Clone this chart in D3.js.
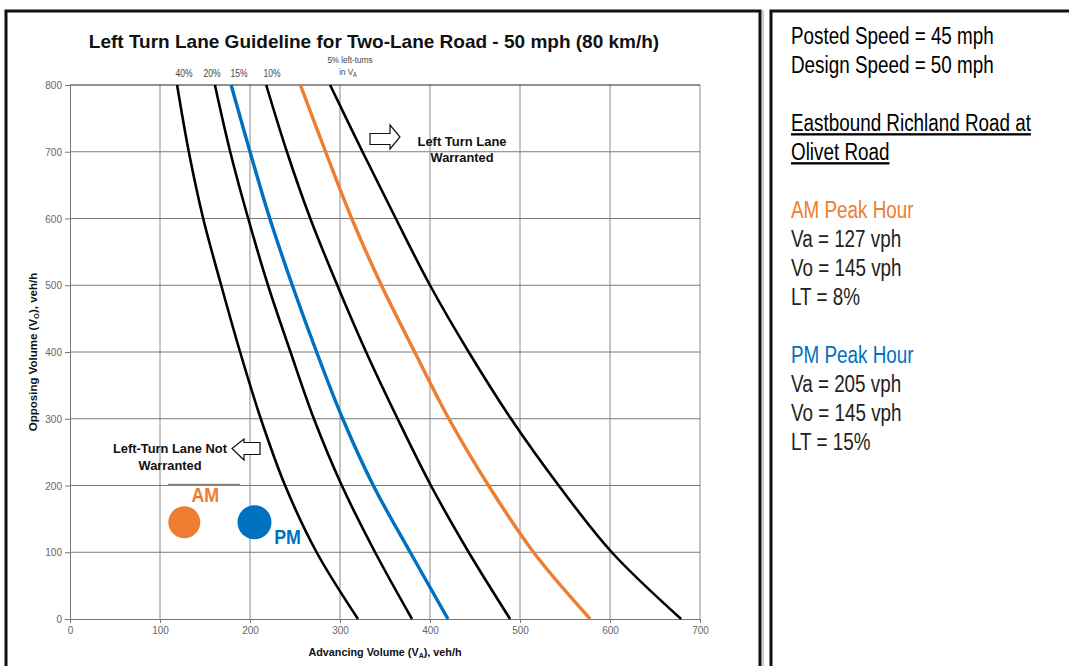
<!DOCTYPE html>
<html>
<head>
<meta charset="utf-8">
<script src="https://cdn.jsdelivr.net/npm/d3@7"></script>
<style>
  html, body { margin: 0; padding: 0; background: #fff; }
  svg { display: block; }
</style>
</head>
<body>
<svg id="chart" width="1069" height="666"></svg>
<script>
// ---------- data ----------
const opposingVolumes = [0, 100, 200, 300, 400, 500, 600, 700, 800];
const advancing40 = [320, 274, 239, 212, 189, 168, 148, 132, 119];
const advancing20 = [380, 339, 302, 271, 245, 220, 198, 178, 161];
const advancing15 = [420, 378, 337, 303, 274, 247, 222, 200, 179];
const advancing10 = [489, 443, 401, 364, 329, 297, 267, 241, 218];
const advancing8  = [578, 515, 465, 421, 383, 346, 313, 284, 256];
const advancing5  = [679, 602, 543, 490, 443, 400, 362, 325, 289];

const seriesNames  = ["40%", "20%", "15%", "10%", "8%", "5%"];
const seriesColors = ["#000000", "#000000", "#0070C0", "#000000", "#ED7D31", "#000000"];
const seriesValues = [advancing40, advancing20, advancing15, advancing10, advancing8, advancing5];

const pointNames  = ["AM", "PM"];
const pointVa     = [127, 205];
const pointVo     = [145, 145];
const pointColors = ["#ED7D31", "#0070C0"];

const xTicks = [0, 100, 200, 300, 400, 500, 600, 700];
const yTicks = [0, 100, 200, 300, 400, 500, 600, 700, 800];
const topLabels = ["40%", "20%", "15%", "10%"];

const panelLines = [
  {t: "Posted Speed = 45 mph", c: "#000", u: false},
  {t: "Design Speed = 50 mph", c: "#000", u: false},
  {t: "", c: "#000", u: false},
  {t: "Eastbound Richland Road at", c: "#000", u: true},
  {t: "Olivet Road", c: "#000", u: true},
  {t: "", c: "#000", u: false},
  {t: "AM Peak Hour", c: "#ED7D31", u: false},
  {t: "Va = 127 vph", c: "#222", u: false},
  {t: "Vo = 145 vph", c: "#222", u: false},
  {t: "LT = 8%", c: "#222", u: false},
  {t: "", c: "#000", u: false},
  {t: "PM Peak Hour", c: "#0070C0", u: false},
  {t: "Va = 205 vph", c: "#222", u: false},
  {t: "Vo = 145 vph", c: "#222", u: false},
  {t: "LT = 15%", c: "#222", u: false}
];

// ---------- layout ----------
const svg = d3.select("#chart");
const plot = {left: 70, right: 700, top: 85, bottom: 619};
const x = d3.scaleLinear().domain([0, 700]).range([plot.left, plot.right]);
const y = d3.scaleLinear().domain([0, 800]).range([plot.bottom, plot.top]);
const axisFont = "'Liberation Sans Narrow', 'Liberation Sans', Arial, sans-serif";
const boldFont = "'Liberation Sans', Arial, sans-serif";

// helper: horizontally condensed text (narrow font look)
function narrowText(parent, xx, yy, sx, anchor) {
  return parent.append("text")
    .attr("transform", `translate(${xx},${yy}) scale(${sx},1)`)
    .attr("text-anchor", anchor || "start");
}

// panel borders
svg.append("rect").attr("x", 6).attr("y", 11).attr("width", 754).attr("height", 670)
  .attr("fill", "none").attr("stroke", "#111").attr("stroke-width", 3);
svg.append("line").attr("x1", 763).attr("x2", 763).attr("y1", 10).attr("y2", 666)
  .attr("stroke", "#999").attr("stroke-width", 1);
svg.append("rect").attr("x", 771).attr("y", 11).attr("width", 320).attr("height", 670)
  .attr("fill", "none").attr("stroke", "#111").attr("stroke-width", 3);

// title
svg.append("text").attr("x", 374).attr("y", 48).attr("text-anchor", "middle")
  .attr("font-family", boldFont).attr("font-weight", "bold").attr("font-size", 19)
  .attr("fill", "#111").text("Left Turn Lane Guideline for Two-Lane Road - 50 mph (80 km/h)");

// grid
const g = svg.append("g");
g.selectAll(".vg").data(xTicks.slice(1)).join("line")
  .attr("x1", d => x(d)).attr("x2", d => x(d)).attr("y1", plot.top).attr("y2", plot.bottom)
  .attr("stroke", "#8a8a8a").attr("stroke-width", 1);
g.selectAll(".hg").data(yTicks.slice(1)).join("line")
  .attr("x1", plot.left).attr("x2", plot.right).attr("y1", d => y(d)).attr("y2", d => y(d))
  .attr("stroke", d => d === 800 ? "#222" : "#7a7a7a").attr("stroke-width", 1);

// axes
const yAxis = svg.append("g").attr("transform", `translate(${plot.left},0)`)
  .call(d3.axisLeft(y).tickValues(yTicks).tickSize(5).tickPadding(3).tickFormat(d3.format("d")));
const xAxis = svg.append("g").attr("transform", `translate(0,${plot.bottom})`)
  .call(d3.axisBottom(x).tickValues(xTicks).tickSize(4).tickPadding(4).tickFormat(d3.format("d")));
[xAxis, yAxis].forEach(a => {
  a.select(".domain").attr("stroke", "#777");
  a.selectAll(".tick line").attr("stroke", "#777");
  a.selectAll(".tick text").attr("fill", "#666").attr("font-size", 10).attr("font-family", axisFont);
});
yAxis.selectAll(".tick text").attr("dy", "0.35em");

// axis titles
svg.append("text").attr("x", x(350)).attr("y", 656).attr("text-anchor", "middle")
  .attr("font-family", boldFont).attr("font-weight", "bold").attr("font-size", 10.8).attr("fill", "#111")
  .call(t => {
    t.append("tspan").text("Advancing Volume (V");
    t.append("tspan").attr("font-size", 7).attr("dy", 2).text("A");
    t.append("tspan").attr("dy", -2).text("), veh/h");
  });
svg.append("text").attr("transform", `translate(37,${y(400)}) rotate(-90)`).attr("text-anchor", "middle")
  .attr("font-family", boldFont).attr("font-weight", "bold").attr("font-size", 11.5).attr("fill", "#111")
  .call(t => {
    t.append("tspan").text("Opposing Volume (V");
    t.append("tspan").attr("font-size", 7.5).attr("dy", 2).text("O");
    t.append("tspan").attr("dy", -2).text("), veh/h");
  });

// curves
const line = d3.line().x(d => x(d[0])).y(d => y(d[1])).curve(d3.curveCatmullRom.alpha(0.5));
seriesValues.forEach((vals, i) => {
  const pts = vals.map((v, j) => [v, opposingVolumes[j]]);
  svg.append("path").datum(pts).attr("d", line).attr("fill", "none")
    .attr("stroke", seriesColors[i]).attr("stroke-width", seriesColors[i] === "#000000" ? 2.6 : 3.4);
});

// top curve labels
const topLabelX = [184, 212, 239, 272];
topLabels.forEach((l, i) => {
  narrowText(svg, topLabelX[i], 77, 0.85, "middle")
    .attr("font-family", axisFont).attr("font-size", 10).attr("fill", "#444").text(l);
});
narrowText(svg, 350, 63, 0.85, "middle")
  .attr("font-family", axisFont).attr("font-size", 9.5).attr("fill", "#444").text("5% left-turns");
narrowText(svg, 348, 75, 0.85, "middle")
  .attr("font-family", axisFont).attr("font-size", 9.5).attr("fill", "#444")
  .call(t => { t.append("tspan").text("in V"); t.append("tspan").attr("font-size", 6.5).attr("dy", 2).text("A"); });

// warranted annotation
svg.append("path").attr("d", "M370,133.5 H390 V125 L400,137 L390,149 V144.5 H370 Z")
  .attr("fill", "#fff").attr("stroke", "#111").attr("stroke-width", 1.2);
svg.append("text").attr("x", 462).attr("y", 146).attr("text-anchor", "middle")
  .attr("font-family", boldFont).attr("font-weight", "bold").attr("font-size", 12.8).attr("fill", "#111")
  .attr("textLength", 89).attr("lengthAdjust", "spacingAndGlyphs").text("Left Turn Lane");
svg.append("text").attr("x", 462).attr("y", 162).attr("text-anchor", "middle")
  .attr("font-family", boldFont).attr("font-weight", "bold").attr("font-size", 12.8).attr("fill", "#111")
  .attr("textLength", 63).attr("lengthAdjust", "spacingAndGlyphs").text("Warranted");

// not warranted annotation
svg.append("rect").attr("x", 168).attr("y", 432).attr("width", 74).attr("height", 52).attr("fill", "#fff");
svg.append("line").attr("x1", 168).attr("x2", 240).attr("y1", 484.5).attr("y2", 484.5)
  .attr("stroke", "#888").attr("stroke-width", 1.5);
svg.append("path").attr("d", "M260,442.5 H244 V439 L232,448.5 L244,460 V454.5 H260 Z")
  .attr("fill", "#fff").attr("stroke", "#111").attr("stroke-width", 1.2);
svg.append("text").attr("x", 170).attr("y", 453).attr("text-anchor", "middle")
  .attr("font-family", boldFont).attr("font-weight", "bold").attr("font-size", 12.8).attr("fill", "#111")
  .attr("textLength", 114).attr("lengthAdjust", "spacingAndGlyphs").text("Left-Turn Lane Not");
svg.append("text").attr("x", 170).attr("y", 469.5).attr("text-anchor", "middle")
  .attr("font-family", boldFont).attr("font-weight", "bold").attr("font-size", 12.8).attr("fill", "#111")
  .attr("textLength", 63).attr("lengthAdjust", "spacingAndGlyphs").text("Warranted");

// AM / PM points
const labelDx = [21, 33];
const labelDy = [-20, 22];
pointNames.forEach((n, i) => {
  svg.append("circle").attr("cx", x(pointVa[i])).attr("cy", y(pointVo[i]))
    .attr("r", i === 0 ? 16 : 17).attr("fill", pointColors[i]);
  narrowText(svg, x(pointVa[i]) + labelDx[i], y(pointVo[i]) + labelDy[i], 0.85, "middle")
    .attr("font-family", boldFont).attr("font-weight", "bold")
    .attr("font-size", 21).attr("fill", pointColors[i]).text(n);
});

// right panel text
const panel = svg.append("g");
panelLines.forEach((l, i) => {
  if (!l.t) return;
  narrowText(panel, 791, 44 + i * 29, 0.82)
    .attr("font-family", axisFont).attr("font-size", 23).attr("fill", l.c)
    .attr("text-decoration", l.u ? "underline" : null).text(l.t);
});
</script>
</body>
</html>
